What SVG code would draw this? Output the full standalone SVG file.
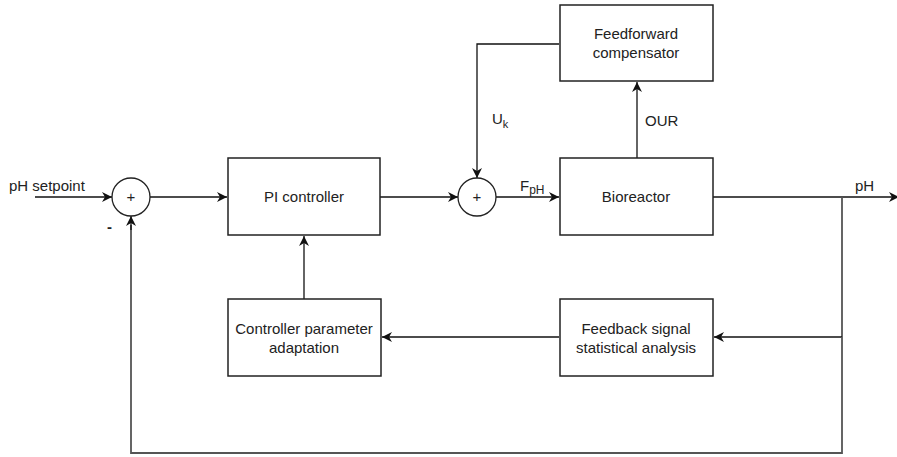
<svg xmlns="http://www.w3.org/2000/svg" width="897" height="457" viewBox="0 0 897 457">
<style>
.box{fill:#fff;stroke:#222;stroke-width:1.5}
.ln{fill:none;stroke:#111;stroke-width:1.3}
.fb{fill:none;stroke:#555;stroke-width:1.8}
text{font-family:"Liberation Sans",Arial,sans-serif;font-size:15px;fill:#222}
.c{text-anchor:middle}
</style>
<defs>
<marker id="ah" viewBox="0 0 10 10" refX="10" refY="5" markerWidth="10" markerHeight="10" markerUnits="userSpaceOnUse" orient="auto">
<path d="M0,0 L10,5 L0,10 L3,5 Z" fill="#111"/>
</marker>
</defs>
<rect width="897" height="457" fill="#fff"/>
<g id="connectors">
<line class="ln" x1="35" y1="197" x2="112" y2="197" marker-end="url(#ah)"/>
<line class="ln" x1="150" y1="197" x2="227" y2="197" marker-end="url(#ah)"/>
<line class="ln" x1="380" y1="197" x2="458" y2="197" marker-end="url(#ah)"/>
<line class="ln" x1="496" y1="197" x2="559" y2="197" marker-end="url(#ah)"/>
<polyline class="ln" points="559,44 477,44 477,178" marker-end="url(#ah)"/>
<line class="ln" x1="637" y1="158" x2="637" y2="82" marker-end="url(#ah)"/>
<line class="ln" x1="713" y1="197" x2="899" y2="197" marker-end="url(#ah)"/>
<line class="fb" x1="842" y1="197" x2="842" y2="337"/>
<line class="ln" x1="842" y1="337" x2="714" y2="337" marker-end="url(#ah)"/>
<line class="ln" x1="559" y1="337" x2="382" y2="337" marker-end="url(#ah)"/>
<line class="ln" x1="304" y1="299" x2="304" y2="236" marker-end="url(#ah)"/>
<polyline class="fb" points="842,337 842,453 131,453 131,225"/>
<line class="ln" x1="131" y1="230" x2="131" y2="216" marker-end="url(#ah)"/>
<text x="9" y="191">pH setpoint</text>
<text x="107" y="232" style="font-weight:bold">-</text>
<text x="492" y="124">U<tspan font-size="11" dy="4">k</tspan></text>
<text x="520" y="191">F<tspan font-size="12" dy="3">pH</tspan></text>
<text x="645" y="126">OUR</text>
<text x="855" y="191">pH</text>
</g>
<g id="sum1">
<circle cx="131" cy="197" r="19" fill="#fff" stroke="#222" stroke-width="1.3"/>
<text class="c" x="131" y="202" font-size="12">+</text>
</g>
<g id="sum2">
<circle cx="477" cy="197" r="19" fill="#fff" stroke="#222" stroke-width="1.3"/>
<text class="c" x="477" y="202" font-size="12">+</text>
</g>
<g id="pi">
<rect class="box" x="228" y="158" width="152" height="77"/>
<text class="c" x="304" y="202">PI controller</text>
</g>
<g id="bioreactor">
<rect class="box" x="560" y="158" width="153" height="77"/>
<text class="c" x="636" y="202">Bioreactor</text>
</g>
<g id="feedforward">
<rect class="box" x="560" y="5" width="153" height="76"/>
<text class="c" x="636" y="39">Feedforward</text>
<text class="c" x="636" y="58">compensator</text>
</g>
<g id="fsa">
<rect class="box" x="560" y="299" width="153" height="77"/>
<text class="c" x="636" y="334">Feedback signal</text>
<text class="c" x="636" y="353">statistical analysis</text>
</g>
<g id="cpa">
<rect class="box" x="228" y="299" width="153" height="77"/>
<text class="c" x="304" y="334">Controller parameter</text>
<text class="c" x="304" y="353">adaptation</text>
</g>
</svg>
